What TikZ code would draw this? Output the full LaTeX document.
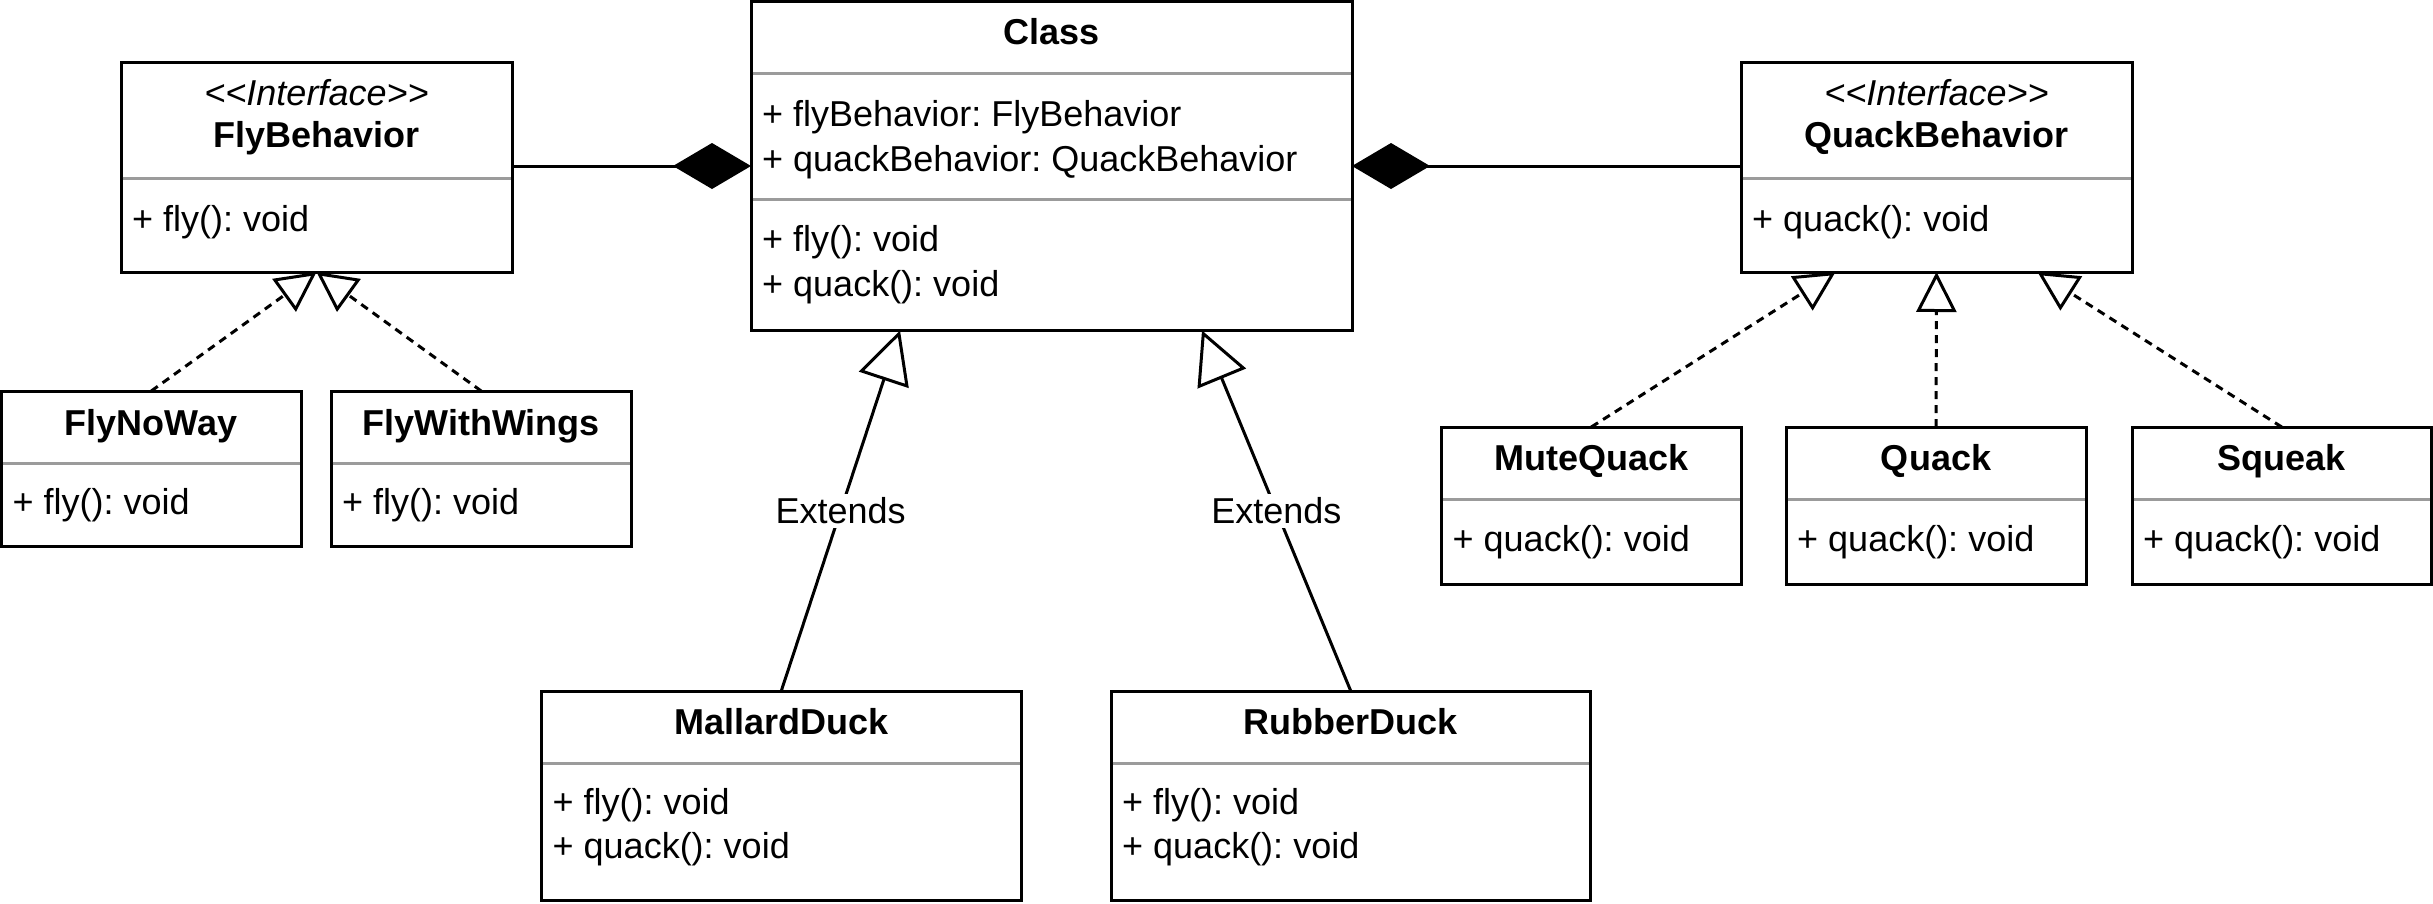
\documentclass[tikz,border=0pt]{standalone}
\usepackage{fontspec}
\setmainfont{Liberation Sans}
\usetikzlibrary{arrows.meta,calc}
\definecolor{divgray}{RGB}{155,155,155}
\tikzset{
  umlbox/.style={draw, line width=3pt, fill=white, inner sep=0pt, outer sep=0pt, anchor=north west},
  divline/.style={draw=divgray, line width=3pt},
  ttl/.style={anchor=base, inner sep=0pt, font=\bfseries},
  stereo/.style={anchor=base, inner sep=0pt, font=\itshape},
  rowtxt/.style={anchor=base west, inner sep=0pt},
  comp/.style={line width=3pt, arrows={Diamond[length=78pt,width=46pt]-}},
  realize/.style={line width=3pt, dash pattern=on 8pt off 6pt, arrows={-Triangle[length=40pt,width=40pt,fill=white]}},
  extends/.style={line width=3pt, arrows={-Triangle[length=52pt,width=52pt,fill=white]}},
  lbl/.style={fill=white, inner sep=4pt}
}
% name, x, y, w, h, title, title offset, divider offset
\newcommand{\UMLbox}[8]{%
  \node[umlbox, minimum width=#4pt, minimum height=#5pt] (#1) at (#2,#3) {};
  \node[ttl] (#1-t) at ($(#1.north)+(0,#7)$) {#6};
  \draw[divline] ($(#1.north west)+(1.5,#8)$) -- ($(#1.north east)+(-1.5,#8)$);
}
% box, node suffix, offset, text
\newcommand{\UMLrow}[4]{%
  \node[rowtxt] (#1-#2) at ($(#1.north west)+(11,#3)$) {#4};
}
\begin{document}
\frenchspacing
\begin{tikzpicture}[x=1pt,y=-1pt]
\fontsize{36}{45}\selectfont
\useasboundingbox (0,0) rectangle (2433,903);

% Interfaces
\UMLbox{flyb}{121}{62}{391}{210}{FlyBehavior}{85}{116}
\node[stereo] (flyb-s) at ($(flyb.north)+(0,43)$) {\mbox{<}\mbox{<}Interface\mbox{>}\mbox{>}};
\UMLrow{flyb}{r1}{169}{+ fly(): void}

\UMLbox{quackb}{1741}{62}{391}{210}{QuackBehavior}{85}{116}
\node[stereo] (quackb-s) at ($(quackb.north)+(0,43)$) {\mbox{<}\mbox{<}Interface\mbox{>}\mbox{>}};
\UMLrow{quackb}{r1}{169}{+ quack(): void}

% Main class
\UMLbox{cls}{751}{1.5}{601}{329}{Class}{42.5}{71.5}
\UMLrow{cls}{a1}{124.5}{+ flyBehavior: FlyBehavior}
\UMLrow{cls}{a2}{169.5}{+ quackBehavior: QuackBehavior}
\draw[divline] ($(cls.north west)+(1.5,197.5)$) -- ($(cls.north east)+(-1.5,197.5)$);
\UMLrow{cls}{m1}{249.5}{+ fly(): void}
\UMLrow{cls}{m2}{295}{+ quack(): void}

% Fly implementations
\UMLbox{flynoway}{1.5}{391}{299.5}{155}{FlyNoWay}{44}{72}
\UMLrow{flynoway}{r1}{123.5}{+ fly(): void}
\UMLbox{flywings}{331}{391}{300.5}{155}{FlyWithWings}{44}{72}
\UMLrow{flywings}{r1}{123.5}{+ fly(): void}

% Quack implementations
\UMLbox{mute}{1441.5}{427}{299.5}{157}{MuteQuack}{43.5}{72}
\UMLrow{mute}{r1}{124.5}{+ quack(): void}
\UMLbox{quack}{1786}{427}{300}{157}{Quack}{43.5}{72}
\UMLrow{quack}{r1}{124.5}{+ quack(): void}
\UMLbox{squeak}{2132}{427}{299.5}{157}{Squeak}{43.5}{72}
\UMLrow{squeak}{r1}{124.5}{+ quack(): void}

% Ducks
\UMLbox{mallard}{541.5}{691}{479.5}{209}{MallardDuck}{43}{72}
\UMLrow{mallard}{m1}{123.5}{+ fly(): void}
\UMLrow{mallard}{m2}{167.5}{+ quack(): void}
\UMLbox{rubber}{1111}{691}{479.5}{209}{RubberDuck}{43}{72}
\UMLrow{rubber}{m1}{123.5}{+ fly(): void}
\UMLrow{rubber}{m2}{167.5}{+ quack(): void}

% Connector end points
\coordinate (qL) at ($(quackb.south)+(-101,0)$);
\coordinate (qR) at ($(quackb.south)+(101,0)$);
\coordinate (cL) at ($(cls.south west)+(149,0)$);
\coordinate (cR) at ($(cls.south west)+(451,0)$);

% Compositions
\draw[comp] (cls.west) -- (cls.west -| flyb.east);
\draw[comp] (cls.east) -- (cls.east -| quackb.west);

% Realizations
\draw[realize] (flynoway.north) -- (flyb.south);
\draw[realize] (flywings.north) -- (flyb.south);
\draw[realize] (mute.north) -- (qL);
\draw[realize] (quack.north) -- (quackb.south);
\draw[realize] (squeak.north) -- (qR);

% Generalizations
\draw[extends] (mallard.north) -- node[lbl] (lblL) {Extends} (cL);
\draw[extends] (rubber.north) -- node[lbl] (lblR) {Extends} (cR);
\end{tikzpicture}
\end{document}
